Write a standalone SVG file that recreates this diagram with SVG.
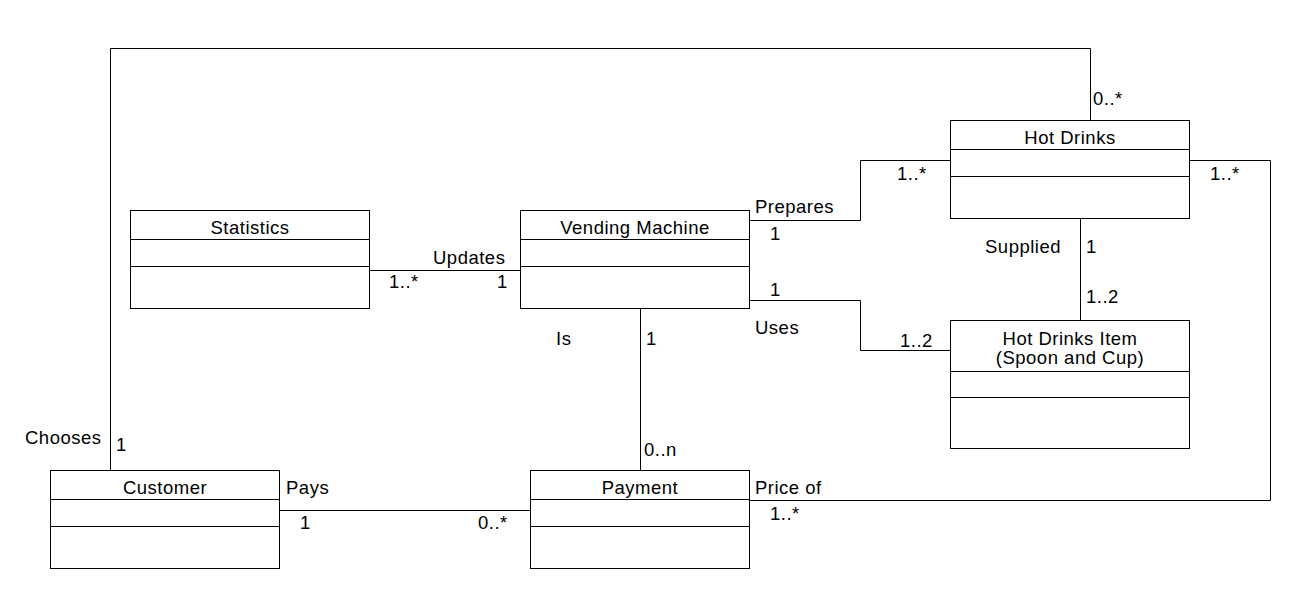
<svg xmlns="http://www.w3.org/2000/svg" width="1310" height="590" viewBox="0 0 1310 590">
<style>
.box{fill:#fff;stroke:#000;stroke-width:1}
.div{stroke:#000;stroke-width:1}
.con{fill:none;stroke:#000;stroke-width:1}
text{font-family:"Liberation Sans",Arial,sans-serif;font-size:18.5px;letter-spacing:0.5px;fill:#000}
.c{text-anchor:middle}
</style>
<rect width="1310" height="590" fill="#fff"/>
<g id="connectors">
<path class="con" d="M369.5 270.5 H520.5"/>
<path class="con" d="M749.5 220.5 H860.5 V160.5 H950.5"/>
<path class="con" d="M749.5 300.5 H860.5 V350.5 H950.5"/>
<path class="con" d="M1080.5 218.5 V320.5"/>
<path class="con" d="M1090.5 120.5 V48.5 H110.5 V470.5"/>
<path class="con" d="M1189.5 160.5 H1270.5 V500.5 H749.5"/>
<path class="con" d="M640.5 308.5 V470.5"/>
<path class="con" d="M279.5 510.5 H530.5"/>
<text x="433" y="264">Updates</text>
<text x="389" y="288">1..*</text>
<text x="497" y="288">1</text>
<text x="755" y="213">Prepares</text>
<text x="770" y="240">1</text>
<text x="897" y="180">1..*</text>
<text x="770" y="296">1</text>
<text x="755" y="334">Uses</text>
<text x="900" y="347">1..2</text>
<text x="556" y="345">Is</text>
<text x="646" y="345">1</text>
<text x="644" y="456">0..n</text>
<text x="1093" y="105">0..*</text>
<text x="1210" y="180">1..*</text>
<text x="985" y="253">Supplied</text>
<text x="1086" y="253">1</text>
<text x="1086" y="303">1..2</text>
<text x="25" y="444">Chooses</text>
<text x="116" y="451">1</text>
<text x="286" y="494">Pays</text>
<text x="300" y="529">1</text>
<text x="478" y="529">0..*</text>
<text x="755" y="494">Price of</text>
<text x="770" y="520">1..*</text>
</g>
<g id="statistics">
<rect class="box" x="130.5" y="210.5" width="239" height="98"/>
<path class="div" d="M130.5 239.5 H369.5 M130.5 266.5 H369.5"/>
<text class="c" x="250" y="234">Statistics</text>
</g>
<g id="vending-machine">
<rect class="box" x="520.5" y="210.5" width="229" height="98"/>
<path class="div" d="M520.5 239.5 H749.5 M520.5 266.5 H749.5"/>
<text class="c" x="635" y="234">Vending Machine</text>
</g>
<g id="hot-drinks">
<rect class="box" x="950.5" y="120.5" width="239" height="98"/>
<path class="div" d="M950.5 149.5 H1189.5 M950.5 176.5 H1189.5"/>
<text class="c" x="1070" y="144">Hot Drinks</text>
</g>
<g id="hot-drinks-item">
<rect class="box" x="950.5" y="320.5" width="239" height="128"/>
<path class="div" d="M950.5 371.5 H1189.5 M950.5 397.5 H1189.5"/>
<text class="c" x="1070" y="345">Hot Drinks Item</text>
<text class="c" x="1070" y="364">(Spoon and Cup)</text>
</g>
<g id="customer">
<rect class="box" x="50.5" y="470.5" width="229" height="98"/>
<path class="div" d="M50.5 499.5 H279.5 M50.5 526.5 H279.5"/>
<text class="c" x="165" y="494">Customer</text>
</g>
<g id="payment">
<rect class="box" x="530.5" y="470.5" width="219" height="98"/>
<path class="div" d="M530.5 499.5 H749.5 M530.5 526.5 H749.5"/>
<text class="c" x="640" y="494">Payment</text>
</g>
</svg>
